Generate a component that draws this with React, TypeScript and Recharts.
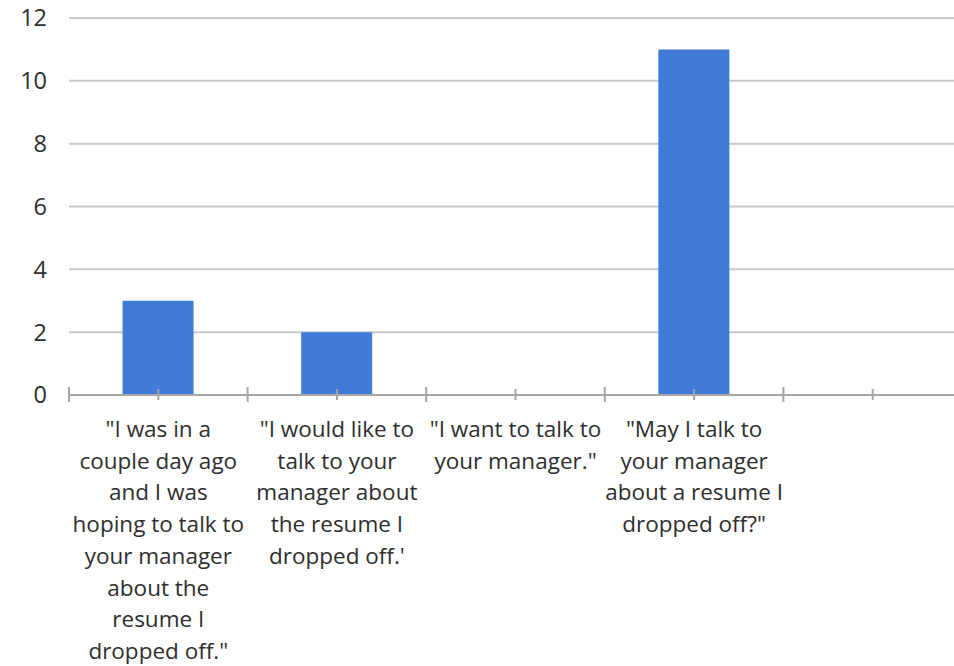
import React from 'react';
import { BarChart, Bar, XAxis, YAxis, CartesianGrid } from 'recharts';

// category labels keep the original line breaks
const CATEGORIES = [
  '"I was in a\ncouple day ago\nand I was\nhoping to talk to\nyour manager\nabout the\nresume I\ndropped off."',
  '"I would like to\ntalk to your\nmanager about\nthe resume I\ndropped off.\'',
  '"I want to talk to\nyour manager."',
  '"May I talk to\nyour manager\nabout a resume I\ndropped off?"',
  '',
];
const COUNTS = [3, 2, 0, 11, null];
const Y_TICKS = [0, 2, 4, 6, 8, 10, 12];

const data = CATEGORIES.map((label, i) => ({ label, count: COUNTS[i] }));

const CHART_W = 964;
const CHART_H = 666;
const Y_AXIS_W = 69;
const MARGIN = { top: 18, right: 2, bottom: 0, left: 0 };
const BAND = (CHART_W - Y_AXIS_W - MARGIN.right - MARGIN.left) / CATEGORIES.length;

const FONT = '"Century Gothic", "Open Sans", sans-serif';
const TEXT = '#2e2e2e';
const AXIS = '#a6a6a6';

const CategoryTick = (props: any) => {
  const { x, y, payload, index } = props;
  const lines = String(payload.value).split('\n');
  return (
    <g>
      <line x1={x - BAND / 2} x2={x - BAND / 2} y1={y - 8} y2={y + 7} stroke={AXIS} strokeWidth={2} />
      <line x1={x} x2={x} y1={y - 6} y2={y + 5} stroke={AXIS} strokeWidth={2} />
      {index === CATEGORIES.length - 1 && (
        <line x1={x + BAND / 2} x2={x + BAND / 2} y1={y - 8} y2={y + 7} stroke={AXIS} strokeWidth={2} />
      )}
      <text x={x} y={y + 42} textAnchor="middle" fill={TEXT} fontSize={22.5} fontFamily={FONT}>
        {lines.map((line, i) => (
          <tspan key={i} x={x} dy={i === 0 ? 0 : 31.7}>
            {line}
          </tspan>
        ))}
      </text>
    </g>
  );
};

export default function App() {
  return (
    <div style={{ position: 'absolute', left: 0, top: 0, width: 954, height: 666, overflow: 'hidden', background: '#fff' }}>
      <BarChart width={CHART_W} height={CHART_H} data={data} margin={MARGIN} barCategoryGap="30%">
        <CartesianGrid vertical={false} stroke="#c8c8c8" strokeWidth={2} />
        <XAxis
          dataKey="label"
          interval={0}
          height={CHART_H - 395 - MARGIN.bottom}
          tickLine={false}
          tickSize={0}
          tickMargin={0}
          axisLine={{ stroke: AXIS, strokeWidth: 2 }}
          tick={<CategoryTick />}
        />
        <YAxis
          width={Y_AXIS_W}
          domain={[0, 12]}
          ticks={Y_TICKS}
          axisLine={false}
          tickLine={false}
          tickSize={0}
          tickMargin={22}
          tick={{ fill: TEXT, fontSize: 23.5, fontFamily: FONT }}
        />
        <Bar dataKey="count" fill="#3f7bd7" isAnimationActive={false} />
      </BarChart>
    </div>
  );
}
